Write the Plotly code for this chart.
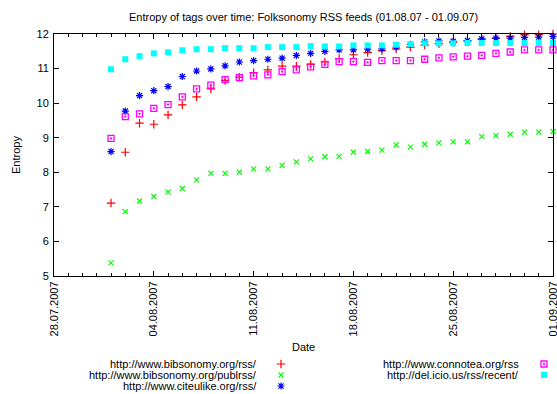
import plotly.graph_objects as go
import pandas as pd

# ---- data ----
dates = pd.date_range("2007-08-01", "2007-09-01", freq="D")

bibsonomy_rss = [7.11, 8.58, 9.42, 9.39, 9.66, 9.95, 10.18, 10.41, 10.65, 10.75,
                 10.88, 10.96, 11.07, 11.07, 11.12, 11.19, 11.29, 11.40, 11.46, 11.52,
                 11.57, 11.62, 11.68, 11.72, 11.76, 11.80, 11.85, 11.88, 11.93, 11.98,
                 11.98, 12.00]
bibsonomy_publrss = [5.38, 6.86, 7.17, 7.30, 7.43, 7.53, 7.78, 7.97, 7.97, 8.00,
                     8.10, 8.10, 8.20, 8.30, 8.39, 8.45, 8.46, 8.58, 8.60, 8.64,
                     8.79, 8.73, 8.81, 8.85, 8.88, 8.88, 9.03, 9.06, 9.10, 9.16,
                     9.16, 9.18]
citeulike = [8.60, 9.77, 10.22, 10.36, 10.48, 10.77, 10.93, 10.99, 11.08, 11.19,
             11.23, 11.27, 11.30, 11.38, 11.44, 11.50, 11.54, 11.54, 11.56, 11.57,
             11.62, 11.70, 11.77, 11.80, 11.79, 11.81, 11.86, 11.88, 11.88, 11.90,
             11.91, 11.93]
connotea = [8.98, 9.61, 9.69, 9.85, 9.96, 10.18, 10.41, 10.52, 10.68, 10.74,
            10.79, 10.82, 10.91, 10.96, 11.05, 11.12, 11.20, 11.20, 11.18, 11.23,
            11.23, 11.23, 11.27, 11.31, 11.34, 11.36, 11.38, 11.44, 11.48, 11.54,
            11.54, 11.54]
delicious = [10.98, 11.27, 11.36, 11.44, 11.47, 11.53, 11.56, 11.56, 11.59, 11.59,
             11.59, 11.62, 11.62, 11.62, 11.65, 11.64, 11.64, 11.67, 11.67, 11.67,
             11.69, 11.71, 11.73, 11.73, 11.73, 11.74, 11.74, 11.74, 11.74, 11.74,
             11.74, 11.74]

names = ["http://www.bibsonomy.org/rss/", "http://www.bibsonomy.org/publrss/",
         "http://www.citeulike.org/rss/", "http://www.connotea.org/rss",
         "http://del.icio.us/rss/recent/"]

# ---- layout geometry (pixels) ----
W, H = 557, 394
L, R, T = 54, 4, 34
PLOT_BOTTOM = 276
PAPER_H = H - T
MAIN_DOM0 = (H - PLOT_BOTTOM) / PAPER_H
FONT = "Liberation Sans, Arial, Helvetica, sans-serif"


def px(x):
    return (x - L) / (W - L - R)


def py(y):
    return (H - y) / PAPER_H


styles = [
    dict(symbol="cross-thin", size=6, color="#ff0000", line=dict(width=1.2, color="#ff0000")),
    dict(symbol="x-thin", size=5, color="#00ff00", line=dict(width=1.2, color="#00ff00")),
    dict(symbol="asterisk-open", size=6, color="#0000ff", line=dict(width=1.2, color="#0000ff")),
    dict(symbol="square-open-dot", size=6, color="#ff00ff", line=dict(width=1.3, color="#ff00ff")),
    dict(symbol="square", size=6, color="#00ffff", line=dict(width=0)),
]
series = [bibsonomy_rss, bibsonomy_publrss, citeulike, connotea, delicious]

fig = go.Figure()
for name, vals, st in zip(names, series, styles):
    fig.add_trace(go.Scatter(x=dates, y=vals, mode="markers", name=name,
                             marker=st, showlegend=False, cliponaxis=False,
                             xaxis="x", yaxis="y"))

# ---- custom legend (gnuplot style: right aligned text, sample on the right) ----
# legend area is its own invisible subplot whose axes are in pixel units
leg_pos = [(259, 281, 364), (259, 281, 375), (259, 281, 386),
           (521, 544, 364), (521, 544, 375)]
annotations = []
for name, st, (tx, mx, yy) in zip(names, styles, leg_pos):
    annotations.append(dict(text=name, x=tx, y=yy, xref="x2", yref="y2",
                            xanchor="right", yanchor="middle", showarrow=False,
                            font=dict(family=FONT, size=11, color="black")))
    fig.add_trace(go.Scatter(x=[mx], y=[yy], mode="markers", marker=st,
                             showlegend=False, cliponaxis=False, hoverinfo="skip",
                             xaxis="x2", yaxis="y2"))

annotations.append(dict(text="Date", x=303.5, y=347, xref="x2", yref="y2",
                        xanchor="center", yanchor="middle", showarrow=False,
                        font=dict(family=FONT, size=11, color="black")))
annotations.append(dict(text="Entropy of tags over time: Folksonomy RSS feeds (01.08.07 - 01.09.07)",
                        x=px(303.5), y=py(17), xref="paper", yref="paper",
                        xanchor="center", yanchor="middle", showarrow=False,
                        font=dict(family=FONT, size=11, color="black")))
annotations.append(dict(text="Entropy", x=px(16), y=py(155), xref="paper", yref="paper",
                        xanchor="center", yanchor="middle", showarrow=False, textangle=-90,
                        font=dict(family=FONT, size=11, color="black")))

axis_common = dict(showline=True, linecolor="black", linewidth=1, mirror="allticks",
                   ticks="inside", ticklen=5, tickcolor="black", showgrid=False,
                   zeroline=False, automargin=False,
                   tickfont=dict(family=FONT, size=11, color="black"))

fig.update_layout(
    width=W, height=H,
    margin=dict(l=L, r=R, t=T, b=0, pad=0, autoexpand=False),
    paper_bgcolor="white", plot_bgcolor="rgba(0,0,0,0)",
    showlegend=False,
    annotations=annotations,
    xaxis=dict(type="date", range=["2007-07-28", "2007-09-01"],
               tick0="2007-07-28", dtick=7 * 86400000, tickformat="%d.%m.%Y",
               tickangle=-90, anchor="y", domain=[0, 1], ticklabeloverflow="allow",
               minor=dict(dtick=86400000, ticks="inside", ticklen=3, tickcolor="black",
                          showgrid=False),
               **axis_common),
    yaxis=dict(range=[5, 12], dtick=1, anchor="x", domain=[MAIN_DOM0, 1],
               ticklabelstandoff=2, **axis_common),
    xaxis2=dict(anchor="y2", domain=[0, 1], range=[L, W - R], visible=False, fixedrange=True),
    yaxis2=dict(anchor="x2", domain=[0, MAIN_DOM0], range=[H, PLOT_BOTTOM], visible=False,
                fixedrange=True),
)

fig.write_html("out.html", config={"displayModeBar": False},
               post_script="document.body.style.margin='0';")
